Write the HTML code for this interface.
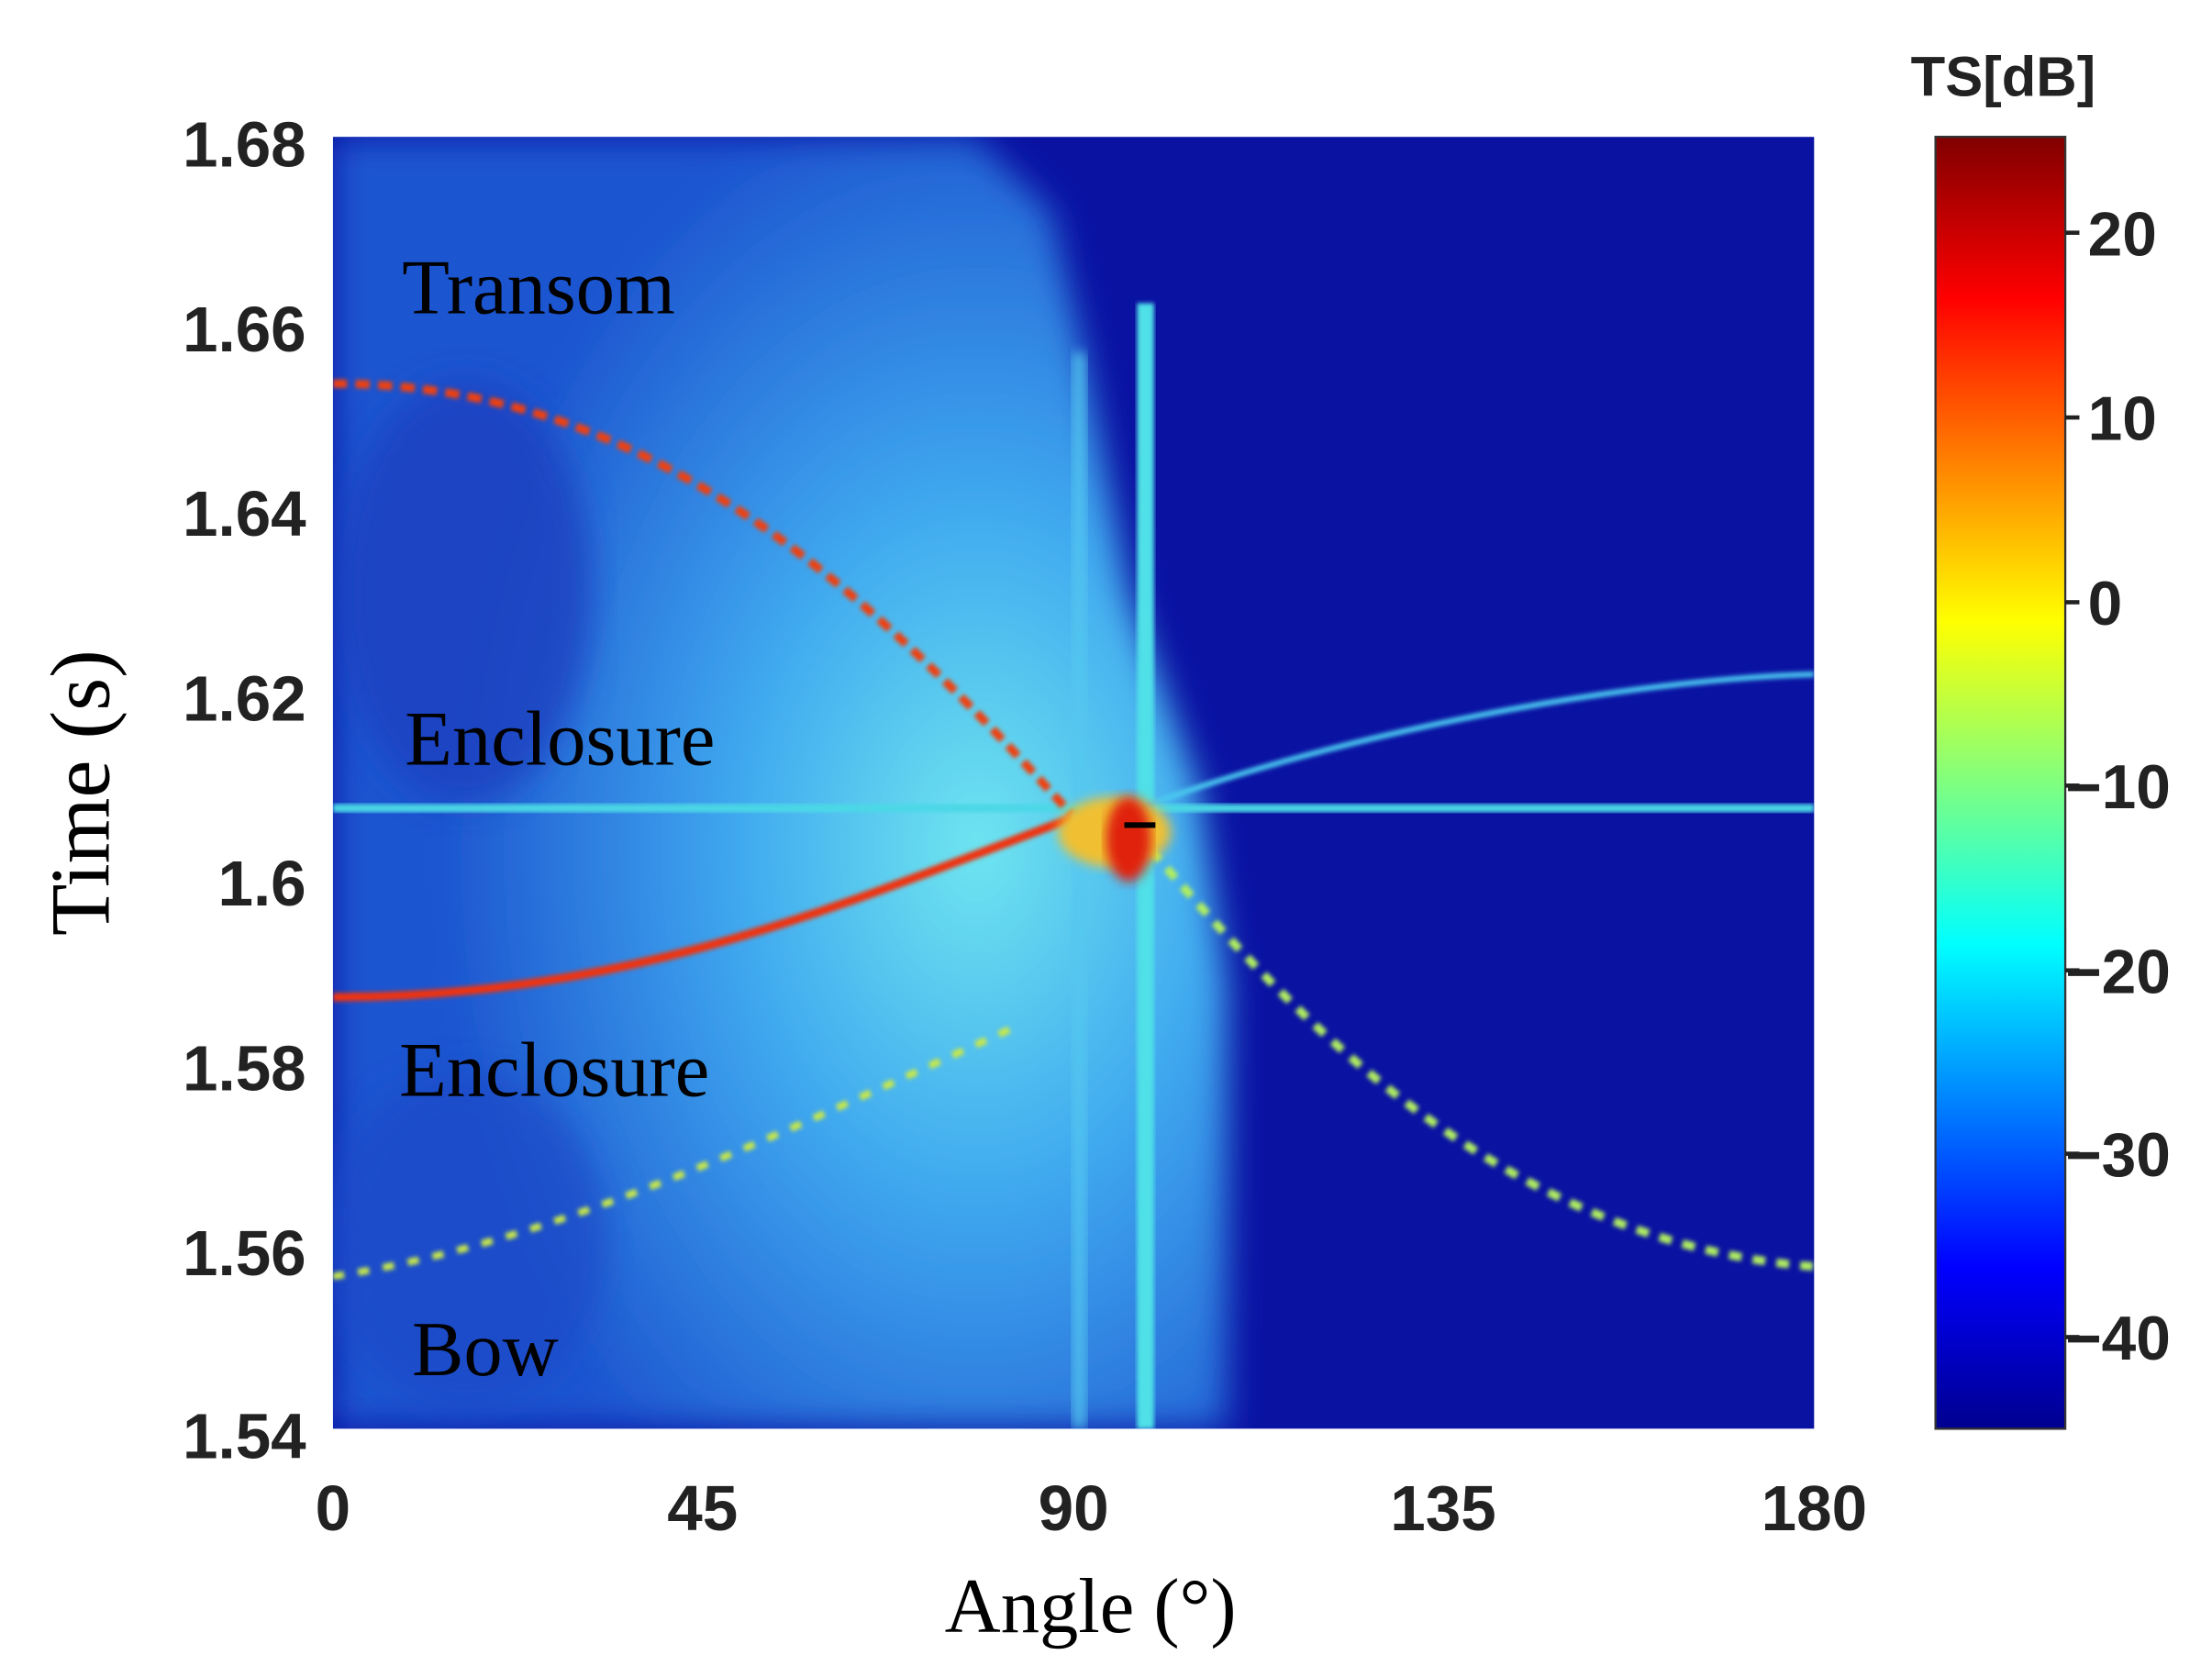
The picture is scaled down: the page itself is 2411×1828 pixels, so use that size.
<!DOCTYPE html>
<html><head><meta charset="utf-8"><style>
html,body{margin:0;padding:0;background:#fff}
svg{display:block}
</style></head><body>
<svg width="2411" height="1828" viewBox="0 0 1568 1189" preserveAspectRatio="none" xmlns="http://www.w3.org/2000/svg">
<defs>
<linearGradient id="jet" x1="0" y1="1" x2="0" y2="0">
<stop offset="0" stop-color="#00008f"/>
<stop offset="0.125" stop-color="#0000ff"/>
<stop offset="0.375" stop-color="#00ffff"/>
<stop offset="0.625" stop-color="#ffff00"/>
<stop offset="0.875" stop-color="#ff0000"/>
<stop offset="1" stop-color="#800000"/>
</linearGradient>
<radialGradient id="glow" cx="0.72" cy="0.55" r="0.6">
<stop offset="0" stop-color="#6fe6f0"/>
<stop offset="0.45" stop-color="#3fa8ef"/>
<stop offset="1" stop-color="#1d55d0"/>
</radialGradient>
<filter id="b4"><feGaussianBlur stdDeviation="4"/></filter>
<filter id="b10"><feGaussianBlur stdDeviation="12"/></filter>
<filter id="b2"><feGaussianBlur stdDeviation="1.5"/></filter>
<clipPath id="pc"><rect x="236" y="97" width="1050" height="916"/></clipPath>
</defs>
<rect width="1568" height="1189" fill="#fff"/>
<g clip-path="url(#pc)">
<rect x="236" y="97" width="1050" height="916" fill="#0a12a2"/>
<path d="M236,97 L690,97 L745,150 L770,260 L800,420 L850,560 L870,700 L870,1013 L236,1013 Z" fill="url(#glow)" filter="url(#b10)"/>
<ellipse cx="330" cy="420" rx="90" ry="150" fill="#1a3fc0" filter="url(#b10)" opacity="0.8"/>
<ellipse cx="330" cy="880" rx="100" ry="120" fill="#1a48c8" filter="url(#b10)" opacity="0.7"/>
<rect x="806" y="215" width="12" height="798" fill="#4fe0e8" filter="url(#b2)"/>
<rect x="760" y="250" width="10" height="763" fill="#55c8f0" filter="url(#b4)" opacity="0.8"/>
<rect x="236" y="570" width="1050" height="6" fill="#4cd8e6" filter="url(#b2)"/>
<path d="M236,905 C400,880 560,800 720,728" stroke="#c8e84a" stroke-width="5" fill="none" stroke-dasharray="8 10" filter="url(#b2)"/>
<path d="M810,572 C950,520 1150,482 1286,478" stroke="#48c8f0" stroke-width="4" fill="none" filter="url(#b2)"/>
<path d="M805,590 C900,700 1050,880 1286,898" stroke="#b0ee60" stroke-width="6" fill="none" stroke-dasharray="9 8" filter="url(#b2)"/>
<path d="M236,272 C450,272 600,400 760,578" stroke="#f04010" stroke-width="6" fill="none" stroke-dasharray="10 6" filter="url(#b2)"/>
<path d="M236,707 C450,707 600,640 760,580" stroke="#f03010" stroke-width="6" fill="none" filter="url(#b2)"/>
<ellipse cx="790" cy="590" rx="40" ry="25" fill="#f0c030" filter="url(#b4)"/>
<ellipse cx="800" cy="595" rx="16" ry="30" fill="#e02010" filter="url(#b4)"/>
<rect x="797" y="583" width="22" height="4" fill="#000"/>
</g>
<g font-family="'Liberation Serif',serif" font-size="55" fill="#000">
<text x="285" y="222">Transom</text>
<text x="287" y="542">Enclosure</text>
<text x="283" y="777">Enclosure</text>
<text x="292" y="975">Bow</text>
</g>
<g font-family="'Liberation Sans',sans-serif" font-weight="bold" font-size="45" fill="#222" text-anchor="end">
<text x="217" y="118">1.68</text>
<text x="217" y="249">1.66</text>
<text x="217" y="380">1.64</text>
<text x="217" y="511">1.62</text>
<text x="217" y="642">1.6</text>
<text x="217" y="773">1.58</text>
<text x="217" y="904">1.56</text>
<text x="217" y="1034">1.54</text>
</g>
<g font-family="'Liberation Sans',sans-serif" font-weight="bold" font-size="45" fill="#222" text-anchor="middle">
<text x="236" y="1085">0</text>
<text x="498" y="1085">45</text>
<text x="761" y="1085">90</text>
<text x="1023" y="1085">135</text>
<text x="1286" y="1085">180</text>
</g>
<text x="773" y="1157" font-family="'Liberation Serif',serif" font-size="55" text-anchor="middle" fill="#000">Angle (°)</text>
<text transform="translate(77,562) rotate(-90)" font-family="'Liberation Serif',serif" font-size="60" text-anchor="middle" fill="#000">Time (s)</text>
<rect x="1372" y="97" width="92" height="916" fill="url(#jet)" stroke="#333" stroke-width="1.5"/>
<text x="1420" y="68" font-family="'Liberation Sans',sans-serif" font-weight="bold" font-size="40" text-anchor="middle" fill="#222">TS[dB]</text>
<g stroke="#222" stroke-width="3">
<line x1="1464" y1="165" x2="1474" y2="165"/><line x1="1464" y1="296" x2="1474" y2="296"/>
<line x1="1464" y1="427" x2="1474" y2="427"/><line x1="1464" y1="557" x2="1474" y2="557"/>
<line x1="1464" y1="688" x2="1474" y2="688"/><line x1="1464" y1="818" x2="1474" y2="818"/>
<line x1="1464" y1="948" x2="1474" y2="948"/>
</g>
<g font-family="'Liberation Sans',sans-serif" font-weight="bold" font-size="44" fill="#222">
<text x="1480" y="181">20</text>
<text x="1480" y="312">10</text>
<text x="1480" y="443">0</text>
<text x="1464" y="573">−10</text>
<text x="1464" y="704">−20</text>
<text x="1464" y="834">−30</text>
<text x="1464" y="964">−40</text>
</g>
</svg>
</body></html>
